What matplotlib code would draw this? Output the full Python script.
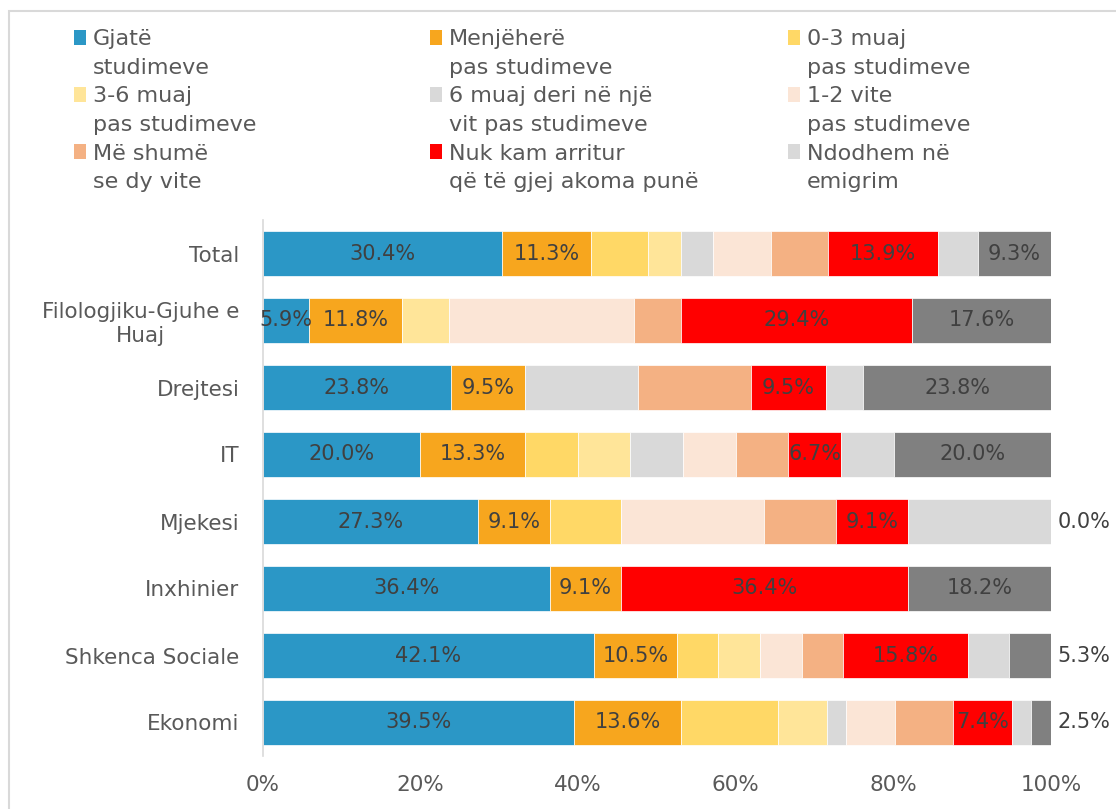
import numpy as np
import matplotlib
matplotlib.use("Agg")
import matplotlib.pyplot as plt
from matplotlib.patches import Patch, Rectangle

# categories, top to bottom
categories = ['Total', 'Filologjiku-Gjuhe e\nHuaj', 'Drejtesi', 'IT', 'Mjekesi',
              'Inxhinier', 'Shkenca Sociale', 'Ekonomi']

# series values (%) per category
gjate = [30.4, 5.9, 23.8, 20.0, 27.3, 36.4, 42.1, 39.5]
menjehere = [11.3, 11.8, 9.5, 13.3, 9.1, 9.1, 10.5, 13.6]
muaj_0_3 = [7.2, 0.0, 0.0, 6.7, 9.1, 0.0, 5.3, 12.3]
muaj_3_6 = [4.2, 5.9, 0.0, 6.7, 0.0, 0.0, 5.3, 6.2]
muaj_6_12 = [4.1, 0.0, 14.3, 6.7, 0.0, 0.0, 0.0, 2.5]
vite_1_2 = [7.3, 23.5, 0.0, 6.7, 18.2, 0.0, 5.3, 6.2]
mbi_2_vite = [7.3, 5.9, 14.3, 6.7, 9.1, 0.0, 5.3, 7.4]
pa_pune = [13.9, 29.4, 9.5, 6.7, 9.1, 36.4, 15.8, 7.4]
emigrim = [5.1, 0.0, 4.8, 6.7, 18.2, 0.0, 5.3, 2.5]
tjeter = [9.3, 17.6, 23.8, 20.0, 0.0, 18.2, 5.3, 2.5]

legend_names = ['Gjatë\nstudimeve', 'Menjëherë\npas studimeve', '0-3 muaj\npas studimeve',
                '3-6 muaj\npas studimeve', '6 muaj deri në një\nvit pas studimeve',
                '1-2 vite\npas studimeve', 'Më shumë\nse dy vite',
                'Nuk kam arritur\nqë të gjej akoma punë', 'Ndodhem në\nemigrim']

series = [gjate, menjehere, muaj_0_3, muaj_3_6, muaj_6_12, vite_1_2, mbi_2_vite,
          pa_pune, emigrim, tjeter]
colors = ['#2B97C6', '#F7A61E', '#FFD866', '#FFE599', '#D9D9D9', '#FBE5D6',
          '#F4B183', '#FF0000', '#D9D9D9', '#808080']
labelled = [0, 1, 7, 9]

W, H = 1116, 809
fig = plt.figure(figsize=(W / 100, H / 100), dpi=100)
ax = fig.add_axes([263 / W, 1 - 756 / H, 788 / W, 536 / H])

data = np.array(series, dtype=float)
row_tot = data.sum(axis=0)
shares = data / row_tot * 100  # 100% stacked

y = np.arange(len(categories))
left = np.zeros(len(categories))
for k in range(len(series)):
    ax.barh(y, shares[k], left=left, height=0.67, color=colors[k],
            edgecolor='white', linewidth=0.5)
    if k in labelled:
        for i in range(len(categories)):
            v = data[k, i]
            if k == 9 and v < 9:
                ax.text(100.8, y[i], f'{v:.1f}%', ha='left', va='center',
                        fontsize=15, color='#404040')
            else:
                ax.text(left[i] + shares[k, i] / 2, y[i], f'{v:.1f}%', ha='center',
                        va='center', fontsize=15, color='#404040')
    left += shares[k]

ax.set_xlim(0, 100)
ax.set_ylim(len(categories) - 0.5, -0.5)
ax.set_xticks(np.arange(0, 101, 20))
ax.set_xticklabels([f'{t}%' for t in range(0, 101, 20)])
ax.set_yticks(y)
ax.set_yticklabels(categories, multialignment='center')
ax.tick_params(axis='both', length=0, labelsize=15.5, labelcolor='#595959')
ax.tick_params(axis='y', pad=17)
ax.tick_params(axis='x', pad=14)
for s in ['top', 'right', 'bottom']:
    ax.spines[s].set_visible(False)
ax.spines['left'].set_color('#D9D9D9')
ax.spines['left'].set_linewidth(1.2)

# legend: three columns, row-major order, marker beside the first line
col_x = [74, 430, 788]
for j in range(3):
    handles, labels = [], []
    for k in [j, j + 3, j + 6]:
        first, second = legend_names[k].split('\n')
        handles.append(Patch(facecolor=colors[k], edgecolor='none'))
        labels.append(first)
        handles.append(Patch(facecolor='none', edgecolor='none'))
        labels.append(second)
    fig.legend(handles, labels, loc='upper left',
               bbox_to_anchor=(col_x[j] / W, 1 - 29 / H), frameon=False,
               fontsize=16, labelcolor='#595959', handlelength=0.55,
               handleheight=0.65, handletextpad=0.3, labelspacing=0.39,
               borderpad=0, borderaxespad=0)

# chart area border
fig.add_artist(Rectangle((9 / W, -0.1), 1.2, 1 - 11 / H + 0.1, transform=fig.transFigure,
                         fill=False, edgecolor='#D9D9D9', linewidth=1.5))

fig.savefig('out.png', dpi=100, facecolor='white')
